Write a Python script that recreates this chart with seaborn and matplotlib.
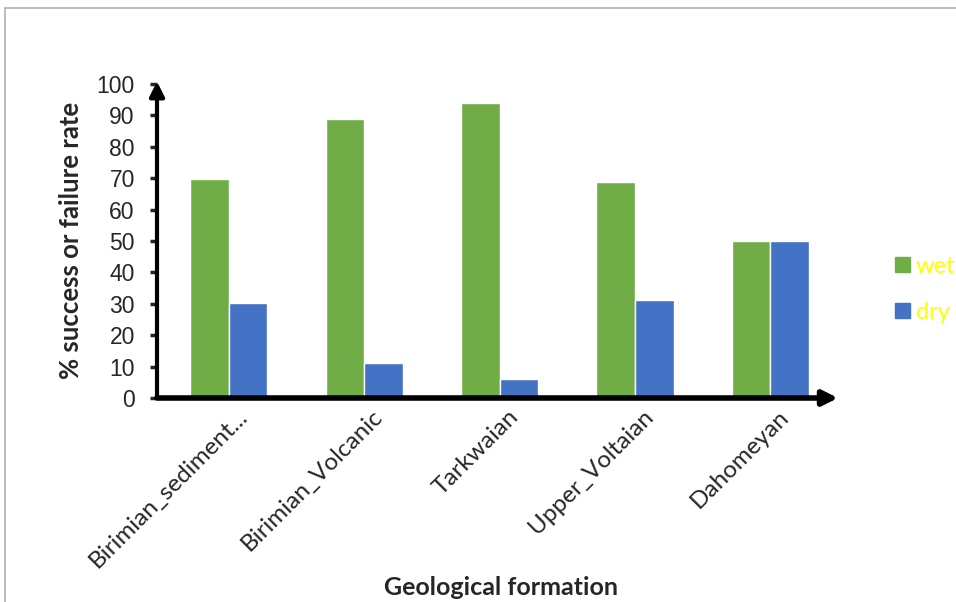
import matplotlib
matplotlib.use("Agg")
import matplotlib.pyplot as plt
from matplotlib.patches import Rectangle
from matplotlib.transforms import ScaledTranslation
import seaborn as sns
import pandas as pd

formations = ["Birimian_sediment...", "Birimian_Volcanic", "Tarkwaian", "Upper_Voltaian", "Dahomeyan"]
wet = [69.6, 89, 94, 68.8, 50]
dry = [30.4, 11, 6, 31.2, 50]
series = ["wet", "dry"]
colors = ["#70AD47", "#4472C4"]

df = pd.DataFrame({
    "formation": formations * 2,
    "status": ["wet"] * len(formations) + ["dry"] * len(formations),
    "rate": wet + dry,
})

sns.set_style("white")
fig = plt.figure(figsize=(9.56, 6.02), dpi=100)
ax = fig.add_axes([157 / 956, 1 - 398 / 602, 681 / 956, 314 / 602])

sns.barplot(data=df, x="formation", y="rate", hue="status", hue_order=series,
            palette=colors, width=0.57, ax=ax, saturation=1, legend=False)

ax.set_xlim(-0.53, 4.5)
ax.set_ylim(0, 100)
ax.set_yticks(range(0, 101, 10))
for s in ax.spines.values():
    s.set_visible(False)

# axis arrows
ax.annotate("", xy=(0, 1.008), xytext=(0, 0), xycoords="axes fraction",
            arrowprops=dict(arrowstyle="-|>", lw=3, color="black", mutation_scale=22,
                            shrinkA=0, shrinkB=0), annotation_clip=False)
ax.annotate("", xy=(4.5, 0), xytext=(-0.53, 0), xycoords=("data", "axes fraction"),
            arrowprops=dict(arrowstyle="-|>", lw=4, color="black", mutation_scale=22,
                            shrinkA=0, shrinkB=0), annotation_clip=False)

ax.tick_params(axis="y", left=True, length=5, width=2.5, pad=11, labelsize=16.5,
               labelfontfamily="Liberation Sans")
ax.tick_params(axis="x", bottom=False, pad=2)
ax.set_xticks(range(len(formations)))
ax.set_xticklabels(formations, rotation=45, ha="right", va="top",
                   rotation_mode="anchor", fontsize=17.5, family="Lato")
for lbl in ax.get_xticklabels():
    lbl.set_transform(lbl.get_transform() + ScaledTranslation(0.08, 0.0, fig.dpi_scale_trans))

ax.set_ylabel("% success or failure rate", fontsize=18.5, fontweight="bold", family="Lato")
ax.yaxis.set_label_coords(-0.109, 0.503)
ax.set_xlabel("Geological formation", fontsize=18, fontweight="bold", family="Lato")
ax.xaxis.set_label_coords(0.505, -0.566)

# legend
for i, (name, c) in enumerate(zip(series, colors)):
    y = 1 - (264.5 + 46 * i) / 602
    fig.patches.append(Rectangle((895 / 956, y - 7.5 / 602), 15 / 956, 15 / 602,
                                 transform=fig.transFigure, color=c))
    fig.text(916 / 956, y - 0.004, name, color="#FFFF00", fontsize=17, family="Lato",
             va="center", ha="left")

# outer chart frame
fig.patches.append(Rectangle((5 / 956, -0.1), 1.2, 1 - 8 / 602 + 0.1, transform=fig.transFigure,
                             fill=False, edgecolor="#b0b0b0", lw=1.2))

fig.savefig("out.png", dpi=100)
